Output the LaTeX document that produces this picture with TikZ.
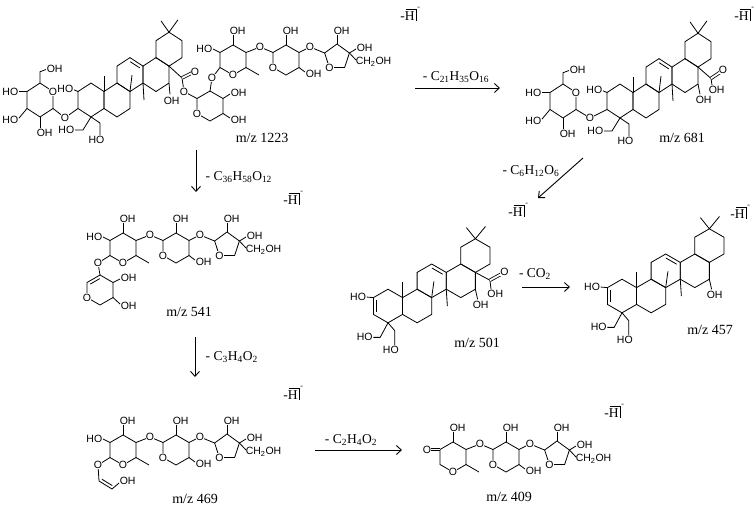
\documentclass[tikz,border=0pt]{standalone}
\usepackage{fontspec}
\setmainfont{Liberation Serif}
\newfontfamily\atomfont{Liberation Sans}
\usetikzlibrary{arrows.meta}

% one ring, pointed at top and bottom
\newcommand{\hexa}[2]{\draw (#1,#2) +(0,-15) -- +(13,-7.5) -- +(13,7.5) -- +(0,15) -- +(-13,7.5) -- +(-13,-7.5) -- cycle;}

% the five rings of the aglycone, ring A centred at (0,0)
\newcommand{\olean}{%
  \foreach \cx/\cy in {0/0,26/0,39/-22.5,65/-22.5,78/-45} {\hexa{\cx}{\cy}}
  \draw (39.2,-33.9) -- (48.8,-28.4);
  \draw (13,-7.5) -- (13,-21);
  \draw (39,-7.5) -- (41,-22);
  \draw (52,-15) -- (53,0);
  \draw (78,-60) -- (70,-70) (78,-60) -- (87,-71);
}

% glucose, centred at (0,0)
\newcommand{\glc}{%
  \hexa{0}{0}
  \node[ringo] at (13,-7.5) {O};
  \draw (0,-15) -- (0,-25) -- (6,-27);
  \node[atom,anchor=west] at (6,-27.5) {OH};
  \draw (-13,-7.5) -- (-21,-7.5);
  \node[atom,anchor=east] at (-21,-7.5) {HO};
  \draw (-13,7.5) -- (-21,16);
  \node[atom,anchor=east] at (-21,17.5) {HO};
  \draw (0,15) -- (0,25);
  \node[atom,anchor=north west] at (-4,25) {OH};
}

% 2-OH and the two CH2OH on C-4
\newcommand{\gly}{%
  \draw (-13,-7.5) -- (-17,-9);
  \node[atom,anchor=east] at (-17,-9.5) {HO};
  \draw (0,15) -- (-8,26.5) -- (-16,26.5);
  \node[atom,anchor=east] at (-16,26.5) {HO};
  \draw (0,15) -- (9,20.4) -- (9,31);
  \node[atom,anchor=north] at (5.5,31) {HO};
}

% enol ring A with the two CH2OH
\newcommand{\enolA}{%
  \draw (-10,-5) -- (-10,5);
  \draw (-13,-7.5) -- (-19,-8);
  \node[atom,anchor=east] at (-19,-8) {HO};
  \draw (0,15) -- (-7,28) -- (-13,28);
  \node[atom,anchor=east] at (-13,28) {HO};
  \draw (0,15) -- (6,22) -- (6,35);
  \node[atom,anchor=north] at (2.5,35) {HO};
}

% acid on C-17
\newcommand{\acid}{%
  \draw (78,-30) -- (91,-23) -- (92,-15);
  \draw[double,double distance=1.8pt] (91,-23) -- (102,-29);
  \node[ringo] at (104,-30.5) {O};
  \node[atom,anchor=north west] at (88,-15) {OH};
}

% 16-OH
\newcommand{\sixteen}{%
  \draw (78,-15) -- (80,-6);
  \node[atom,anchor=north west] at (75,-5) {OH};
}

% 6-deoxy sugar, xylose and apiose, first ring centred at (0,0)
\newcommand{\trisac}{%
  \hexa{0}{0}
  \hexa{53}{0}
  \draw (0,-15) -- (0,-25);
  \node[atom,anchor=south west] at (-4,-25) {OH};
  \draw (13,-7.5) -- (27,-13) -- (40,-7.5);
  \node[ringo] at (27,-13) {O};
  \draw (13,7.5) -- (26,15);
  \node[ringo] at (0,15) {O};
  \draw (53,-15) -- (53,-25);
  \node[atom,anchor=south west] at (49,-25) {OH};
  \draw (66,7.5) -- (72,12);
  \node[atom,anchor=west] at (72,14) {OH};
  \node[ringo] at (40,7.5) {O};
  \draw (66,-7.5) -- (77,-13) -- (91.6,-7);
  \node[ringo] at (77,-13) {O};
  \draw (91.6,-7) -- (104,-16) -- (116.4,-7) -- (111.6,7.5) -- (96.4,7.5) -- cycle;
  \node[ringo] at (96.4,7.5) {O};
  \draw (104,-16) -- (104,-25);
  \node[atom,anchor=south west] at (100,-25) {OH};
  \draw (116.4,-7) -- (123,-11);
  \node[atom,anchor=west] at (123,-12) {OH};
  \draw (116.4,-7) -- (123,0);
  \node[atom,anchor=west] at (122,2) {CH\textsubscript{2}OH};
}

% deprotonation mark
\newcommand{\hmark}[3]{%
  \node[loss,anchor=base west,inner sep=0pt] (#1) at (#2,#3) {-H};
  \draw[line width=0.5pt] ([xshift=-9.5pt,yshift=1.5pt]#1.north east) -- ([xshift=1pt,yshift=1.5pt]#1.north east) -- ([xshift=1pt,yshift=-1pt]#1.base east);
  \node[font=\fontsize{8}{8}\selectfont,anchor=south west,inner sep=0pt] at ([xshift=2pt,yshift=1pt]#1.north east) {-};
}

\begin{document}
\begin{tikzpicture}[x=1pt,y=-1pt,line width=0.8pt,
  atom/.style={font=\atomfont\fontsize{10.5}{10.5}\selectfont,inner sep=0.4pt},
  ringo/.style={atom,fill=white},
  mz/.style={font=\fontsize{14}{14}\selectfont},
  loss/.style={font=\fontsize{13.5}{14}\selectfont},
  rxn/.style={-{Straight Barb[length=5pt,width=9pt]},line width=0.9pt}]
\useasboundingbox (0,0) rectangle (754,507);

% m/z 1223
\begin{scope}[shift={(91,100)},yscale=1.13]
  \olean
  \begin{scope}[shift={(-51,0)}] \glc \end{scope}
  \draw (-38,7.5) -- (-26,15.7) -- (-13,7.5);
  \node[ringo] at (-26,15.7) {O};
  \gly
  \draw (78,-15) -- (79,-5);
  \node[atom,anchor=north west] at (72,-3) {OH};
  \draw (78,-30) -- (91,-19.5) -- (93,-7.5) -- (106,-1.3);
  \draw[double,double distance=1.8pt] (91,-19.5) -- (101,-24);
  \node[ringo] at (104,-25) {O};
  \node[ringo] at (93,-7.5) {O};
\end{scope}
\hexa{210}{106}
\node[ringo] at (197,113.5) {O};
\draw (223,98.5) -- (230,94);
\node[atom,anchor=west] at (230,93) {OH};
\draw (223,113.5) -- (230,118);
\node[atom,anchor=west] at (230,120) {OH};
\begin{scope}[shift={(233,60)}]
  \trisac
  \draw (-13,-7.5) -- (-20,-11);
  \node[atom,anchor=east] at (-20,-11) {HO};
  \draw (-13,7.5) -- (-21,18) -- (-23,31);
  \node[ringo] at (-21,18) {O};
\end{scope}
\node[mz] (mz1223) at (262,138) {m/z 1223};
\hmark{h1223}{400}{20}

% m/z 681
\begin{scope}[shift={(620,101)},yscale=1.13]
  \olean
  \begin{scope}[shift={(-57,0)}] \glc \end{scope}
  \draw (-44,7.5) -- (-30,15) -- (-13,7.5);
  \node[ringo] at (-30,15) {O};
  \gly
  \sixteen
  \draw (78,-30) -- (91,-20) -- (92,-14);
  \draw[double,double distance=1.8pt] (91,-20) -- (101,-26);
  \node[ringo] at (103,-27.5) {O};
  \node[atom,anchor=north west] at (88,-14) {OH};
\end{scope}
\node[mz] (mz681) at (682,138) {m/z 681};
\hmark{h681}{734}{20}

% m/z 501
\begin{scope}[shift={(388,306)},scale=1.12]
  \olean
  \enolA
  \acid
  \sixteen
\end{scope}
\node[mz] (mz501) at (477,343) {m/z 501};
\hmark{h501}{508}{216}

% m/z 457
\begin{scope}[shift={(622,296)},scale=1.12]
  \olean
  \enolA
  \sixteen
\end{scope}
\node[mz] (mz457) at (710,330) {m/z 457};
\hmark{h457}{730}{218}

% m/z 541
\begin{scope}[shift={(123,248)}]
  \trisac
  \draw (-13,-7.5) -- (-20,-11);
  \node[atom,anchor=east] at (-20,-11) {HO};
  \draw (-13,7.5) -- (-25,15) -- (-23,27);
  \node[ringo] at (-25,15) {O};
  \hexa{-23}{42}
  \draw (-23.2,30.6) -- (-32.8,36.1);
  \node[ringo] at (-36,49.5) {O};
  \draw (-10,34.5) -- (-3,31);
  \node[atom,anchor=west] at (-3,30) {OH};
  \draw (-10,49.5) -- (-3,56);
  \node[atom,anchor=west] at (-3,58) {OH};
\end{scope}
\node[mz] (mz541) at (189,312) {m/z 541};
\hmark{h541}{283}{204}

% m/z 469
\begin{scope}[shift={(123,450)}]
  \trisac
  \draw (-13,-7.5) -- (-20,-11);
  \node[atom,anchor=east] at (-20,-11) {HO};
  \draw (-13,7.5) -- (-25,15) -- (-24,31) -- (-11,39) -- (-4,33);
  \draw (-21.1,29.2) -- (-10.7,35.6);
  \node[ringo] at (-25,15) {O};
  \node[atom,anchor=west] at (-4,31) {OH};
\end{scope}
\node[mz] (mz469) at (195,499) {m/z 469};
\hmark{h469}{283}{399}

% m/z 409
\begin{scope}[shift={(453,457)}]
  \trisac
  \draw[double,double distance=1.8pt] (-13,-7.5) -- (-23,-7.5);
  \node[ringo] at (-26,-7.5) {O};
\end{scope}
\node[mz] (mz409) at (509,497) {m/z 409};
\hmark{h409}{604}{417}

% losses
\coordinate (a1s) at (196,150); \coordinate (a1e) at (196,192);
\coordinate (a2s) at (195,337); \coordinate (a2e) at (195,377);
\coordinate (a3s) at (315,450); \coordinate (a3e) at (402,450);
\coordinate (a4s) at (415,88);  \coordinate (a4e) at (500,88);
\coordinate (a5s) at (583,158); \coordinate (a5e) at (538,198);
\coordinate (a6s) at (522,287); \coordinate (a6e) at (570,287);
\draw[rxn] (a1s) -- (a1e);
\draw[rxn] (a2s) -- (a2e);
\draw[rxn] (a3s) -- (a3e);
\draw[rxn] (a4s) -- (a4e);
\draw[rxn] (a5s) -- (a5e);
\draw[rxn] (a6s) -- (a6e);
\node[loss,anchor=west] (l1) at (202,177) {- C\textsubscript{36}H\textsubscript{58}O\textsubscript{12}};
\node[loss,anchor=west] (l2) at (202,357) {- C\textsubscript{3}H\textsubscript{4}O\textsubscript{2}};
\node[loss] (l3) at (351,440) {- C\textsubscript{2}H\textsubscript{4}O\textsubscript{2}};
\node[loss] (l4) at (456,77) {- C\textsubscript{21}H\textsubscript{35}O\textsubscript{16}};
\node[loss] (l5) at (531,171) {- C\textsubscript{6}H\textsubscript{12}O\textsubscript{6}};
\node[loss] (l6) at (535,274) {- CO\textsubscript{2}};
\end{tikzpicture}
\end{document}
